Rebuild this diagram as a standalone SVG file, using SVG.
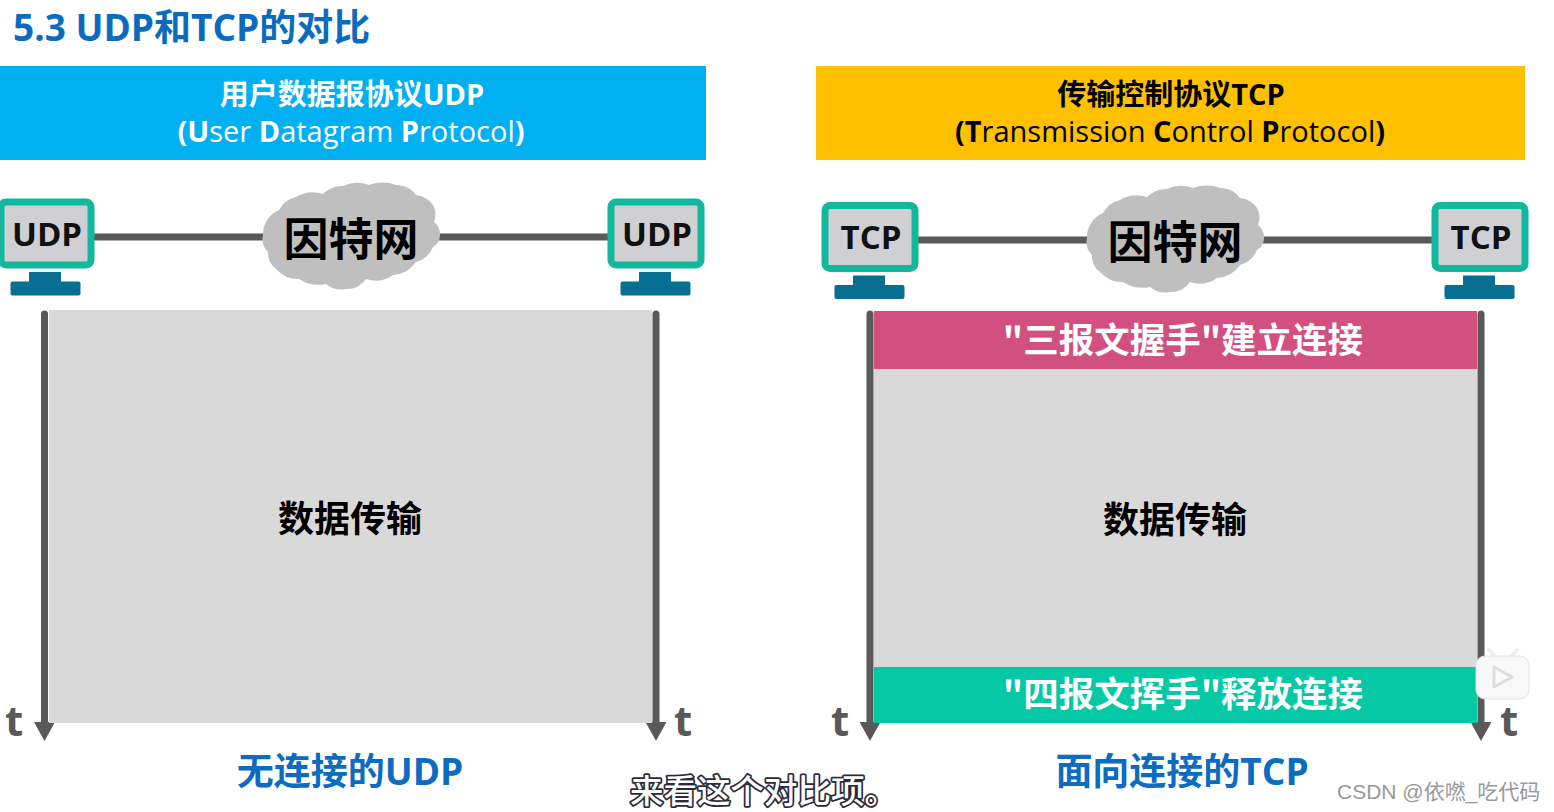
<svg xmlns="http://www.w3.org/2000/svg" width="1554" height="812" viewBox="0 0 1554 812">
<style>
text{font-family:"Open Sans","Noto Sans CJK SC",sans-serif}
.cjk{font-family:"Noto Sans CJK SC",sans-serif;font-weight:700}
.b{font-weight:700}
.m{text-anchor:middle}
.hd{font-size:29px}
.w{fill:#fff}
.k{fill:#000}
.line{stroke:#595959;stroke-width:7;fill:none}
.time{stroke:#595959;stroke-width:7;fill:none;stroke-linecap:round}
.sc{fill:#d0d0d4;stroke:#11b89b;stroke-width:7}
.st{fill:#066f92}
.pc{font-size:33px;font-weight:700;fill:#111;text-anchor:middle}
.t{font-size:42px;font-weight:700;fill:#595959;text-anchor:middle}
.cl{fill:#bfbfbf}
.net{font-size:45px;fill:#000;text-anchor:middle}
.gr{fill:#d9d9d9}
.big{font-size:36px;fill:#000;text-anchor:middle}
.wh{font-size:35.500px;fill:#fff;text-anchor:middle}
.cap{font-size:37px;fill:#0b6cc0;text-anchor:middle}
</style>
<defs>
<g id="cloud"><path class="cl" d="M-87,-2A26,26 0 0 1 -71,-27A26,26 0 0 1 -54,-40A34,34 0 0 1 -27,-43A28,28 0 0 1 -7,-51A34,34 0 0 1 19,-52A40,40 0 0 1 46,-52A24,24 0 0 1 66,-42A24,24 0 0 1 83,-32A20,20 0 0 1 84,-15A16,16 0 0 1 90,-2A14,14 0 0 1 83,10A26,26 0 0 1 66,25A30,30 0 0 1 43,38A30,30 0 0 1 16,42A24,24 0 0 1 -4,52A24,24 0 0 1 -24,47A36,36 0 0 1 -51,42A30,30 0 0 1 -74,32A20,20 0 0 1 -82,15A18,18 0 0 1 -87,-2Z"/></g>
<g id="pc"><rect x="2" y="3.500" width="90" height="63" rx="5" class="sc"/><rect x="30" y="73.500" width="32" height="11" class="st"/><rect x="11.500" y="83" width="70" height="14" rx="2" class="st"/></g>
</defs>
<rect width="1554" height="812" fill="#fff"/>
<g id="title"><text x="13" y="41" font-size="37" class="b" fill="#0b6cbd">5.3 UDP和TCP的对比</text></g>
<g id="udp-header"><rect x="0" y="66" width="706" height="94" fill="#00b0f0"/>
<text x="352" y="104.500" class="hd m b w">用户数据报协议UDP</text>
<text x="351" y="142" class="hd m w"><tspan class="b">(U</tspan>ser <tspan class="b">D</tspan>atagram <tspan class="b">P</tspan>rotocol<tspan class="b">)</tspan></text></g>
<g id="tcp-header"><rect x="816" y="66" width="709" height="94" fill="#ffc000"/>
<text x="1171" y="104.500" class="hd m b k">传输控制协议TCP</text>
<text x="1170" y="142" class="hd m k"><tspan class="b">(T</tspan>ransmission <tspan class="b">C</tspan>ontrol <tspan class="b">P</tspan>rotocol<tspan class="b">)</tspan></text></g>
<g id="connectors">
<path class="line" d="M94,237H270M435,237H610"/>
<path class="line" d="M918,240H1094M1260,240H1434"/>
<path class="time" d="M44.500,314V725M656,314V725M870,314V725M1481,314V725"/>
<path fill="#595959" d="M34,722H55L44.500,741ZM645.500,722H666.500L656,741ZM859.500,722H880.500L870,741ZM1470.500,722H1491.500L1481,741Z"/>
</g>
<g id="udp-left"><use href="#pc" x="-1" y="198.500"/><text x="47" y="246" class="pc">UDP</text></g>
<g id="udp-right"><use href="#pc" x="609" y="198.500"/><text x="657" y="246" class="pc">UDP</text></g>
<g id="tcp-left"><use href="#pc" x="823" y="202"/><text x="871" y="249" class="pc">TCP</text></g>
<g id="tcp-right"><use href="#pc" x="1433" y="202"/><text x="1481" y="249" class="pc">TCP</text></g>
<g id="cloud-udp"><use href="#cloud" x="350" y="237"/><text x="351" y="256" class="net cjk">因特网</text></g>
<g id="cloud-tcp"><use href="#cloud" x="1174" y="240"/><text x="1175" y="259" class="net cjk">因特网</text></g>
<g id="udp-data"><rect x="49" y="310" width="603" height="413" class="gr"/><text x="350" y="532" class="big cjk">数据传输</text></g>
<g id="tcp-data"><rect x="874" y="369" width="603" height="298" class="gr"/><text x="1175" y="533" class="big cjk">数据传输</text></g>
<g id="tcp-handshake"><rect x="874" y="311" width="603" height="58" fill="#d15080"/><text x="1183" y="353" class="wh cjk">"三报文握手"建立连接</text></g>
<g id="tcp-wave"><rect x="874" y="667" width="603" height="56" fill="#05c8a5"/><text x="1183" y="707" class="wh cjk">"四报文挥手"释放连接</text></g>
<g id="time-labels">
<text x="14" y="736" class="t">t</text><text x="683" y="736" class="t">t</text><text x="840" y="736" class="t">t</text><text x="1509" y="736" class="t">t</text></g>
<g id="captions">
<text x="350" y="785" class="cap b">无连接的UDP</text>
<text x="1182" y="785" class="cap b">面向连接的TCP</text></g>
<g id="player"><path d="M1489,650l7,8M1517,650l-7,8" stroke="#eee" stroke-width="4" stroke-linecap="round"/><rect x="1476" y="656" width="53" height="43" rx="9" fill="#f8f8f8" stroke="#e4e4e4"/><path d="M1494,667L1512,677L1494,687Z" fill="#fafafa" stroke="#ddd" stroke-width="3" stroke-linejoin="round"/></g>
<g id="subtitle"><text x="630" y="803" font-size="33.500" class="cjk" style="font-weight:500;fill:#fff;stroke:#2a2a3a;stroke-width:3.500;stroke-linejoin:round;paint-order:stroke">来看这个对比项。</text></g>
<g id="watermark"><text x="1337" y="799" font-size="21" fill="#999" style="font-family:'Liberation Sans','Noto Sans CJK SC',sans-serif">CSDN @依嘫_吃代码</text></g>
</svg>
